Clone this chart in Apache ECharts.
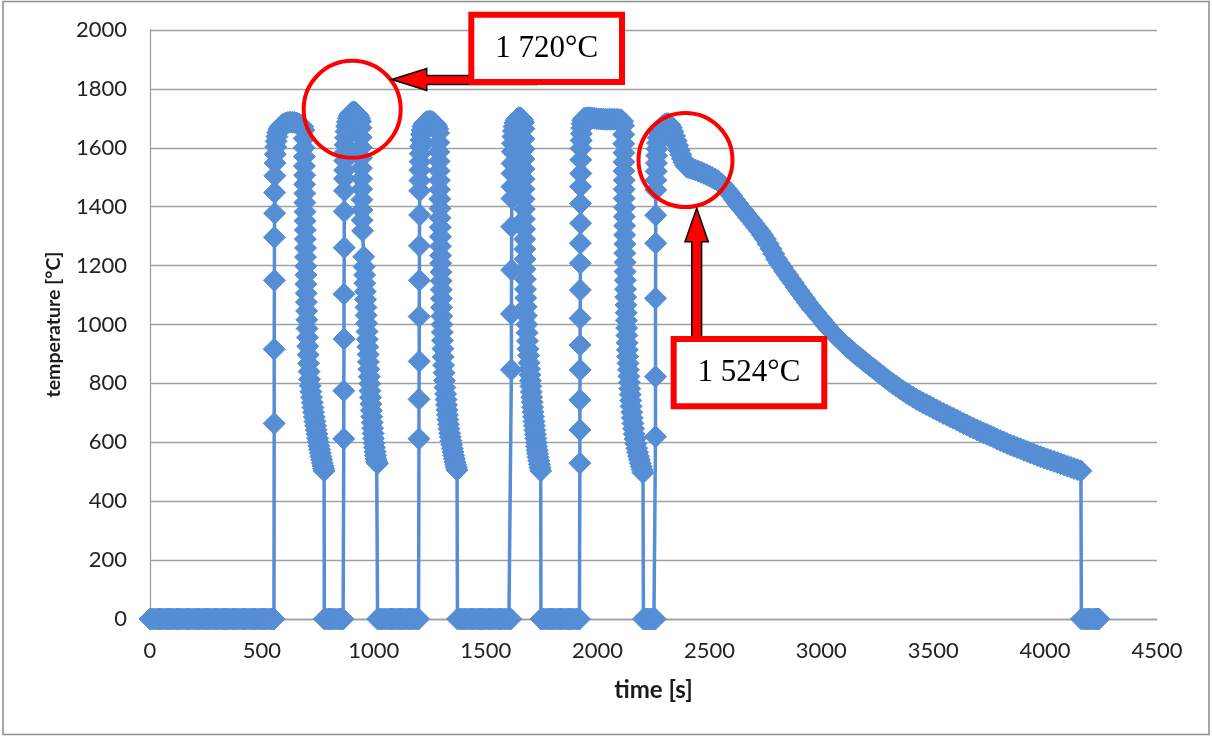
<!DOCTYPE html>
<html>
<head>
<meta charset="utf-8">
<script src="https://cdn.jsdelivr.net/npm/echarts@6/dist/echarts.min.js"></script>
<style>
html,body{margin:0;padding:0;background:#fff;}
#chart{width:1212px;height:736px;}
</style>
</head>
<body>
<div id="chart"></div>
<script>
// ---- axis ticks ----
const xTicks = [0, 500, 1000, 1500, 2000, 2500, 3000, 3500, 4000, 4500];
const yTicks = [0, 200, 400, 600, 800, 1000, 1200, 1400, 1600, 1800, 2000];

// ---- rest periods (temperature reads 0) : times [s] ----
const rest1 = [0,10,20,30,40,50,60,70,80,90,100,110,120,130,140,150,160,170,180,190,200,210,220,230,240,250,260,270,280,290,300,310,320,330,340,350,360,370,380,390,400,410,420,430,440,450,460,470,480,490,500,510,520,530,540,548,554];
const rest2 = [779,789,799,809,819,829,839,849,857,863];
const rest3 = [1017,1027,1037,1047,1057,1067,1077,1087,1097,1107,1117,1127,1137,1147,1157,1167,1177,1187,1195,1200];
const rest4 = [1374,1384,1394,1404,1414,1424,1434,1444,1454,1464,1474,1484,1494,1504,1514,1524,1534,1544,1554,1564,1574,1584,1594,1604,1612];
const rest5 = [1747,1757,1767,1777,1787,1797,1807,1817,1827,1837,1847,1857,1867,1877,1887,1897,1907,1914,1919];
const rest6 = [2205,2213,2221,2229,2237,2245,2252,2258];
const rest7 = [4162,4172,4182,4192,4202,4212,4222,4232,4240];

// ---- heating / cooling cycles : [time s, temperature °C] ----
const cycle1 = [
[555,664],[555,916],[556,1150],[556,1296],[557,1378],[557,1448],[558,1505],[559,1548],[560,1578],[562,1603],[564,1622],[567,1638],[571,1652],[576,1663],[582,1671],[589,1677],[597,1681],[606,1684],[616,1686],[626,1687],[636,1687],[646,1686],[656,1684],[666,1681],[675,1677],[683,1672],
[688,1660],[689,1632],[689,1600],[690,1570],[690,1538],[691,1507],[691,1476],[692,1445],[692,1414],[693,1383],[693,1352],[694,1321],[694,1290],[695,1260],[695,1229],[696,1198],[697,1168],[697,1137],[698,1106],[699,1076],[700,1046],[701,1016],[702,986],[704,956],[705,926],[707,897],[709,868],[711,840],[713,814],[716,792],[719,772],[722,753],[725,735],[728,718],[731,702],[734,686],[737,671],[740,656],[743,642],[746,628],[749,614],[752,601],[755,588],[758,576],[761,564],[764,552],[767,541],[770,530],[773,520],[776,511],[778,503]
];
const cycle2 = [
[866,612],[866,775],[867,951],[867,1103],[868,1261],[868,1384],[869,1454],[869,1495],[870,1524],[870,1556],[871,1584],[872,1610],[874,1634],[876,1655],[879,1673],[882,1688],[886,1700],[891,1709],[897,1716],[903,1720],[909,1722],[915,1721],[921,1718],[927,1713],[932,1707],[937,1699],[941,1689],
[943,1668],[944,1636],[944,1601],[945,1566],[945,1531],[946,1495],[946,1460],[947,1424],[947,1389],[948,1354],[950,1318],[955,1230],
[957,1196],[959,1168],[960,1140],[962,1112],[963,1085],[965,1058],[966,1031],[968,1004],[970,976],[971,950],[973,924],[975,898],[976,873],[978,848],[980,823],[982,799],[983,775],[985,752],[987,730],[989,708],[991,687],[993,667],[995,648],[997,630],[999,613],[1001,597],[1003,582],[1006,568],[1008,555],[1010,543],[1013,534],[1016,528]
];
const cycle3 = [
[1202,612],[1202,746],[1203,875],[1203,1027],[1204,1150],[1204,1267],[1205,1372],[1205,1454],[1206,1489],[1206,1524],[1207,1553],[1208,1580],[1209,1604],[1211,1626],[1213,1645],[1216,1660],[1220,1672],[1225,1680],[1231,1686],[1238,1689],[1246,1690],[1254,1690],[1262,1688],[1269,1685],[1275,1680],[1281,1673],[1286,1664],
[1290,1650],[1291,1618],[1291,1586],[1292,1554],[1292,1522],[1293,1490],[1294,1458],[1295,1426],[1296,1394],[1296,1362],[1297,1330],[1298,1298],[1298,1266],[1299,1234],[1299,1208],[1300,1178],[1301,1148],[1302,1118],[1302,1088],[1303,1058],[1304,1028],[1305,1000],[1306,974],[1307,946],[1309,918],[1310,890],[1312,862],[1314,836],[1316,810],[1318,786],[1321,764],
[1323,745],[1325,727],[1327,710],[1329,693],[1331,677],[1334,661],[1336,646],[1339,631],[1342,618],[1345,605],[1348,592],[1351,579],[1354,567],[1357,555],[1360,544],[1363,533],[1366,523],[1369,514],[1372,506]
];
const cycle4 = [
[1615,846],[1615,1036],[1616,1185],[1616,1332],[1617,1428],[1617,1468],[1618,1513],[1618,1547],[1619,1587],[1620,1615],[1622,1638],[1624,1657],[1627,1672],[1631,1684],[1636,1693],[1642,1699],[1648,1702],[1654,1702],[1660,1699],[1665,1694],[1669,1686],
[1671,1665],[1671,1630],[1671,1596],[1671,1562],[1671,1528],[1672,1494],[1672,1460],[1672,1426],[1673,1392],[1673,1358],[1674,1324],[1674,1290],[1675,1256],[1676,1222],[1676,1188],[1677,1154],[1678,1120],[1679,1090],[1681,1060],[1682,1030],[1684,1000],[1685,972],[1687,944],[1689,917],[1692,895],
[1694,870],[1696,849],[1698,829],[1700,809],[1702,790],[1704,771],[1706,753],[1708,736],[1710,719],[1712,703],[1714,687],[1716,671],[1718,656],[1720,641],[1722,627],[1724,613],[1726,599],[1728,586],[1730,573],[1732,561],[1734,549],[1737,537],[1740,525],[1743,514],[1746,503]
];
const cycle5 = [
[1921,529],[1921,642],[1921,744],[1922,846],[1922,930],[1922,1021],[1923,1117],[1923,1208],[1923,1276],[1924,1344],[1924,1411],[1924,1468],[1925,1513],[1925,1559],[1926,1598],[1927,1625],[1928,1648],[1929,1667],[1931,1682],[1934,1693],[1938,1699],
[1945,1701],[1955,1702],[1965,1702],[1975,1701],[1985,1700],[1995,1699],[2005,1698],[2015,1698],[2025,1697],[2035,1697],[2045,1697],[2055,1697],[2065,1697],[2075,1697],[2085,1697],[2095,1696],[2105,1695],[2112,1690],
[2116,1675],[2117,1645],[2117,1614],[2118,1583],[2118,1552],[2118,1521],[2119,1490],[2119,1459],[2119,1428],[2120,1397],[2120,1366],[2121,1335],[2121,1304],[2122,1273],[2122,1242],[2123,1211],[2123,1180],[2124,1150],[2125,1120],
[2126,1093],[2127,1066],[2128,1040],[2129,1014],[2130,988],[2131,963],[2132,938],[2133,914],[2134,891],[2136,868],[2138,846],[2140,824],[2142,803],[2144,782],[2146,762],[2148,742],[2150,722],[2153,702],[2155,683],[2158,664],[2161,646],[2164,628],[2167,611],[2171,595],[2175,580],[2179,566],[2183,553],[2187,541],[2191,529],[2195,518],[2199,507],[2203,497]
];
const cycle6 = [
[2259,619],[2259,823],[2259,1089],[2260,1276],[2260,1371],[2260,1457],[2261,1490],[2262,1520],[2263,1548],[2264,1573],[2266,1596],[2268,1616],[2271,1634],[2275,1649],[2280,1661],[2286,1670],[2293,1676],[2300,1680],[2308,1682],[2316,1682],[2323,1678],[2330,1668],[2337,1655],[2344,1640],[2351,1624],[2358,1608],[2365,1592],[2372,1577],[2379,1563],[2386,1551],[2393,1541],[2400,1534]
];
// final slow cooling
const finalCooling = [
[2412,1531],[2425,1528],[2437,1525],[2450,1521],[2462,1517],[2475,1513],[2487,1509],[2500,1504],[2512,1499],[2525,1494],[2537,1488],[2550,1480],[2562,1471],[2575,1460],[2587,1449],[2600,1437],[2612,1424],[2625,1411],[2637,1399],[2650,1388],[2662,1376],[2675,1364],[2687,1353],[2700,1341],[2712,1329],[2725,1317],[2737,1304],[2750,1290],[2762,1274],[2775,1257],[2787,1240],[2800,1222],[2812,1208],[2825,1194],[2837,1180],[2850,1167],[2862,1154],[2875,1141],[2887,1127],[2900,1114],[2912,1101],[2925,1088],[2937,1075],[2950,1062],[2962,1051],[2975,1040],[2987,1028],[3000,1017],[3012,1005],[3025,994],[3037,983],[3050,973],[3062,963],[3075,953],[3087,944],[3100,935],[3112,926],[3125,918],[3137,909],[3150,901],[3162,893],[3175,886],[3187,878],[3200,870],[3215,861],[3230,852],[3245,843],[3260,834],[3275,825],[3290,816],[3305,807],[3320,799],[3335,791],[3350,783],[3365,775],[3380,767],[3395,760],[3410,753],[3425,746],[3440,740],[3455,734],[3470,728],[3485,722],[3500,716],[3515,710],[3530,704],[3545,698],[3560,693],[3575,687],[3590,682],[3605,676],[3620,670],[3635,664],[3650,659],[3665,653],[3680,648],[3695,642],[3710,637],[3725,632],[3740,627],[3755,622],[3770,617],[3785,611],[3800,606],[3815,601],[3830,596],[3845,591],[3860,587],[3875,582],[3890,578],[3905,573],[3920,569],[3935,564],[3950,560],[3965,555],[3980,551],[3995,547],[4010,543],[4025,539],[4040,535],[4055,531],[4070,527],[4085,523],[4100,519],[4115,515],[4130,511],[4145,507],[4160,503]
];

// ---- annotation labels ----
const peakLabel = '1 720°C';
const kneeLabel = '1 524°C';

function rest(times){ return times.map(function(t){ return [t, 0]; }); }
const seriesData = [].concat(
  rest(rest1), cycle1, rest(rest2), cycle2, rest(rest3), cycle3,
  rest(rest4), cycle4, rest(rest5), cycle5, rest(rest6), cycle6,
  finalCooling, rest(rest7)
);

const blue = '#558ED5';
const chart = echarts.init(document.getElementById('chart'), null, {renderer: 'canvas'});

const redBox = function(x, y, w, h){
  return {type:'rect', z:100, shape:{x:x, y:y, width:w, height:h},
    style:{fill:'#ffffff', stroke:'#ff0000', lineWidth:6}};
};
const label = function(x, y, txt){
  return {type:'text', z:101, x:x, y:y,
    style:{text:txt, fill:'#000000', font:'31px "Liberation Serif", "Times New Roman", serif',
      textAlign:'center', textVerticalAlign:'middle'}};
};
const plain = function(v){ return String(v); };

chart.setOption({
  animation: false,
  backgroundColor: '#ffffff',
  grid: {left:150, right:55, top:30, bottom:117, containLabel:false},
  xAxis: {
    type:'value', min:xTicks[0], max:xTicks[xTicks.length-1], interval:500,
    name:'time [s]', nameLocation:'middle', nameGap:59,
    nameTextStyle:{fontFamily:'Lato', fontWeight:'bold', fontSize:24, color:'#1a1a1a'},
    axisLine:{show:true, lineStyle:{color:'#a0a0a0', width:1.3}},
    axisTick:{show:false},
    axisLabel:{fontFamily:'Lato', fontSize:22, color:'#222222', margin:21, formatter:plain},
    splitLine:{show:false}
  },
  yAxis: {
    type:'value', min:yTicks[0], max:yTicks[yTicks.length-1], interval:200,
    name:'temperature [°C]', nameLocation:'middle', nameGap:86, nameRotate:90,
    nameTextStyle:{fontFamily:'Lato', fontWeight:'bold', fontSize:19.5, color:'#1a1a1a'},
    axisLine:{show:true, lineStyle:{color:'#a0a0a0', width:1.3}},
    axisTick:{show:false},
    axisLabel:{fontFamily:'Lato', fontSize:22, color:'#222222', margin:23, formatter:plain},
    splitLine:{show:true, lineStyle:{color:'#a0a0a0', width:1.3}}
  },
  series: [{
    type:'line',
    data: seriesData,
    symbol:'diamond',
    symbolSize:22,
    showSymbol:true,
    showAllSymbol:true,
    smooth:false,
    clip:false,
    lineStyle:{color:blue, width:3.5},
    itemStyle:{color:blue, borderColor:blue, borderWidth:1},
    emphasis:{disabled:true}
  }],
  graphic: [
    {type:'rect', z:0, silent:true, shape:{x:3, y:1.5, width:1206, height:733},
      style:{fill:null, stroke:'#8c8c8c', lineWidth:1.5}},
    {type:'circle', z:100, shape:{cx:352.2, cy:109.3, r:48.5},
      style:{fill:null, stroke:'#ff0000', lineWidth:4}},
    {type:'circle', z:100, shape:{cx:685.5, cy:160, r:47},
      style:{fill:null, stroke:'#ff0000', lineWidth:4}},
    {type:'polygon', z:100, shape:{points:[[391.7,79.5],[426.7,68.5],[426.7,75.5],[537,75.5],[537,84.5],[426.7,84.5],[426.7,90.5]]},
      style:{fill:'#ff0000', stroke:'#000000', lineWidth:1.5}},
    {type:'polygon', z:100, shape:{points:[[696.7,208.3],[708.3,241.7],[701.6,241.7],[701.6,340],[691.8,340],[691.8,241.7],[685,241.7]]},
      style:{fill:'#ff0000', stroke:'#000000', lineWidth:1.5}},
    redBox(471.3, 14.7, 150.7, 67.3),
    label(546.7, 48.5, peakLabel),
    redBox(673.7, 339, 150.6, 67.3),
    label(749, 372.5, kneeLabel)
  ]
});
</script>
</body>
</html>
